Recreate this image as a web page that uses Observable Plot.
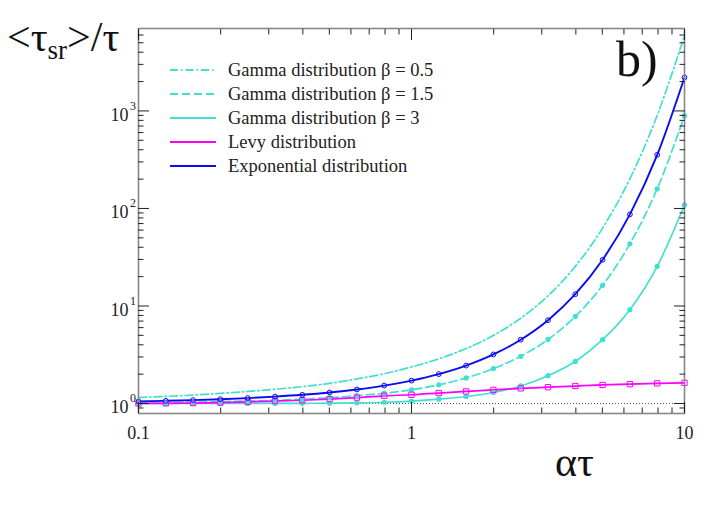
<!DOCTYPE html>
<html>
<head>
<meta charset="utf-8">
<script src="https://cdn.jsdelivr.net/npm/d3@7"></script>
<script src="https://cdn.jsdelivr.net/npm/@observablehq/plot@0.6"></script>
<style>
  html, body { margin: 0; padding: 0; background: white; }
</style>
</head>
<body>
<div id="chart"></div>
<script>
// ---- data ----
const alphaTau = [0.1, 0.1259, 0.1585, 0.1995, 0.2512, 0.3162, 0.3981, 0.5012, 0.631, 0.7943,
                  1, 1.2589, 1.5849, 1.9953, 2.5119, 3.1623, 3.9811, 5.0119, 6.3096, 7.9433, 10];
const gammaB05 = [1.153, 1.182, 1.221, 1.271, 1.329, 1.401, 1.490, 1.609, 1.787, 2.022,
                  2.371, 2.874, 3.662, 4.990, 7.49, 12.72, 25.47, 62.9, 201.6, 900.8, 5930];
const gammaB15 = [1.021, 1.027, 1.035, 1.045, 1.061, 1.080, 1.108, 1.146, 1.203, 1.276,
                  1.381, 1.554, 1.831, 2.281, 3.049, 4.536, 7.82, 16.29, 43.4, 159.1, 894];
const gammaB3  = [1.000, 1.000, 1.000, 1.001, 1.002, 1.003, 1.005, 1.009, 1.016, 1.030,
                  1.059, 1.107, 1.18, 1.297, 1.514, 1.93, 2.70, 4.51, 9.16, 25.5, 108.6];
const levy     = [1.0, 1.005, 1.01, 1.02, 1.04, 1.06, 1.08, 1.11, 1.15, 1.20,
                  1.23, 1.28, 1.33, 1.38, 1.43, 1.47, 1.51, 1.55, 1.58, 1.61, 1.63];
const expo     = [1.052, 1.066, 1.084, 1.107, 1.137, 1.177, 1.228, 1.298, 1.394, 1.527,
                  1.718, 2.003, 2.448, 3.185, 4.511, 7.154, 13.21, 29.77, 86.99, 354.5, 2202];

const xMajor = [0.1, 1, 10];
const xMajorLabels = ["0.1", "1", "10"];
const xMinor = [0.2, 0.3, 0.4, 0.5, 0.6, 0.7, 0.8, 0.9, 2, 3, 4, 5, 6, 7, 8, 9];
const yMajor = [1, 10, 100, 1000];
const yMajorBase = ["10", "10", "10", "10"];
const yMajorExp = ["0", "1", "2", "3"];
const yMinor = [0.9, 2, 3, 4, 5, 6, 7, 8, 9, 20, 30, 40, 50, 60, 70, 80, 90,
                200, 300, 400, 500, 600, 700, 800, 900, 2000, 3000, 4000, 5000, 6000];

const legendLabels = ["Gamma distribution \u03B2 = 0.5", "Gamma distribution \u03B2 = 1.5",
                      "Gamma distribution \u03B2 = 3", "Levy distribution", "Exponential distribution"];

// ---- styling ----
const TURQ = "#40e0d0", BLUE = "#0a0af5", MAG = "#ff00ff";
const FONT = "'Liberation Serif', 'Times New Roman', serif";
const DASHDOT = "8,3,1.5,3", DASH = "8,4";

const series = (ys) => alphaTau.map((x, i) => ({x, y: ys[i]}));
const dB05 = series(gammaB05), dB15 = series(gammaB15), dB3 = series(gammaB3),
      dLevy = series(levy), dExp = series(expo);

const tickColor = "#222";

const svg = Plot.plot({
  width: 712, height: 515,
  marginLeft: 138, marginRight: 28, marginTop: 28, marginBottom: 102,
  style: {background: "white", fontFamily: FONT, color: "#222", overflow: "visible"},
  x: {type: "log", domain: [0.1, 10]},
  y: {type: "log", domain: [0.79, 7000]},
  marks: [
    Plot.ruleY([1], {stroke: "#555", strokeWidth: 1, strokeDasharray: "1,2"}),
    // curves
    Plot.line(dB05, {x: "x", y: "y", stroke: TURQ, strokeWidth: 1.7, strokeDasharray: DASHDOT, curve: "monotone-x"}),
    Plot.line(dB15, {x: "x", y: "y", stroke: TURQ, strokeWidth: 1.7, strokeDasharray: DASH, curve: "monotone-x"}),
    Plot.line(dB3, {x: "x", y: "y", stroke: TURQ, strokeWidth: 1.7, curve: "monotone-x"}),
    Plot.line(dLevy, {x: "x", y: "y", stroke: MAG, strokeWidth: 1.7, curve: "monotone-x"}),
    Plot.line(dExp, {x: "x", y: "y", stroke: BLUE, strokeWidth: 1.9, curve: "monotone-x"}),
    // markers
    Plot.dot(dB15, {x: "x", y: "y", r: 2.6, fill: TURQ, stroke: "none"}),
    Plot.dot(dB3, {x: "x", y: "y", r: 2.6, fill: TURQ, stroke: "none"}),
    Plot.dot(dLevy, {x: "x", y: "y", r: 3, symbol: "square", fill: "none", stroke: MAG, strokeWidth: 1}),
    Plot.dot(dExp, {x: "x", y: "y", r: 2.4, fill: "none", stroke: BLUE, strokeWidth: 1}),
    // frame
    Plot.frame({stroke: "#888", strokeWidth: 1.6}),
    // inward ticks, all four sides
    Plot.axisX(xMajor, {anchor: "bottom", tickSize: 11, dy: -11, fill: "none", stroke: tickColor, label: null}),
    Plot.axisX(xMinor, {anchor: "bottom", tickSize: 5.5, dy: -5.5, fill: "none", stroke: tickColor, label: null}),
    Plot.axisX(xMajor, {anchor: "top", tickSize: 11, dy: 11, fill: "none", stroke: tickColor, label: null}),
    Plot.axisX(xMinor, {anchor: "top", tickSize: 5.5, dy: 5.5, fill: "none", stroke: tickColor, label: null}),
    Plot.axisY(yMajor, {anchor: "left", tickSize: 11, dx: 11, fill: "none", stroke: tickColor, label: null}),
    Plot.axisY(yMinor, {anchor: "left", tickSize: 5.5, dx: 5.5, fill: "none", stroke: tickColor, label: null}),
    Plot.axisY(yMajor, {anchor: "right", tickSize: 11, dx: -11, fill: "none", stroke: tickColor, label: null}),
    Plot.axisY(yMinor, {anchor: "right", tickSize: 5.5, dx: -5.5, fill: "none", stroke: tickColor, label: null}),
    // tick labels
    Plot.axisX(xMajor, {anchor: "bottom", tickSize: 0, tickPadding: 13, fontSize: 18, fill: "#222",
      tickFormat: (d) => xMajorLabels[xMajor.indexOf(d)], label: null}),
    Plot.axisY(yMajor, {anchor: "left", tickSize: 0, tickPadding: 10, dy: 4, fontSize: 18, fill: "#222",
      tickFormat: (d) => yMajorBase[yMajor.indexOf(d)], label: null}),
    Plot.text(yMajor, {y: (d) => d, text: (d, i) => yMajorExp[i], frameAnchor: "left",
      textAnchor: "start", dx: -8.5, dy: -5, fontSize: 12, fill: "#222"})
  ]
});

document.getElementById("chart").appendChild(svg);

// ---- titles and legend (text/decoration) ----
const s = d3.select(svg);
const yt = s.append("text").attr("x", 7).attr("y", 51).attr("text-anchor", "start")
  .attr("font-family", FONT).attr("font-size", 42).attr("fill", "#111");
yt.append("tspan").text("<\u03C4");
yt.append("tspan").attr("font-size", 27).attr("dy", 8).text("sr");
yt.append("tspan").attr("dy", -8).text(">/\u03C4");

s.append("text").attr("x", 555).attr("y", 476).attr("text-anchor", "start")
  .attr("font-family", FONT).attr("font-size", 42).attr("fill", "#111").text("\u03B1\u03C4");

s.append("text").attr("x", 616).attr("y", 76).attr("text-anchor", "start")
  .attr("font-family", FONT).attr("font-size", 50).attr("fill", "#111").text("b)");

const legColors = [TURQ, TURQ, TURQ, MAG, BLUE];
const legDash = [DASHDOT, DASH, null, null, null];
const lg = s.append("g");
legendLabels.forEach((lab, i) => {
  const y = 70 + i * 24;
  const ln = lg.append("line").attr("x1", 170).attr("x2", 216).attr("y1", y).attr("y2", y)
    .attr("stroke", legColors[i]).attr("stroke-width", 1.8);
  if (legDash[i]) ln.attr("stroke-dasharray", legDash[i]);
  lg.append("text").attr("x", 228).attr("y", y + 6).attr("text-anchor", "start")
    .attr("font-family", FONT).attr("font-size", 18.5).attr("fill", "#222").text(lab);
});
</script>
</body>
</html>
